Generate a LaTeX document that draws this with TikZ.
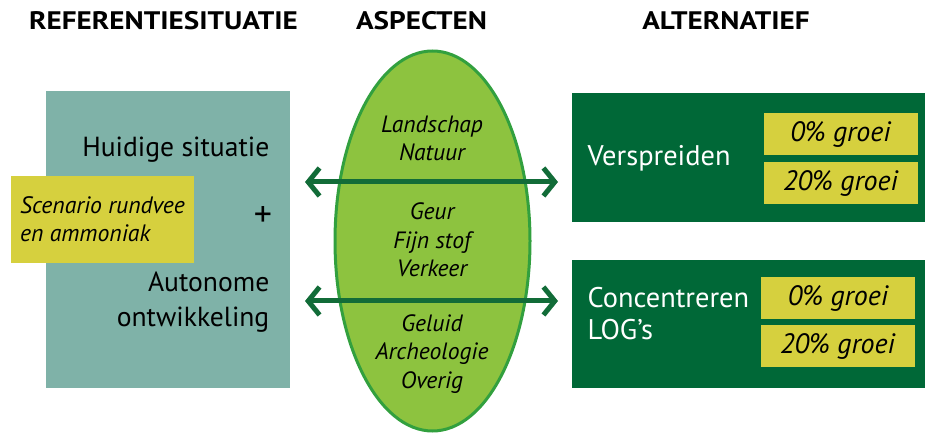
\documentclass[tikz,border=0pt]{standalone}
\usepackage{fontspec}
\setmainfont{PT Sans}
\newfontfamily\headfont[FakeStretch=1.15]{PT Sans}
\usetikzlibrary{shapes.geometric,arrows.meta}
\definecolor{refteal}{RGB}{127,178,168}
\definecolor{scenyellow}{RGB}{214,208,62}
\definecolor{aspgreen}{RGB}{141,195,63}
\definecolor{aspedge}{RGB}{50,160,62}
\definecolor{altgreen}{RGB}{0,104,55}
\definecolor{arrgreen}{RGB}{18,108,56}
\tikzset{
  head/.style={font=\headfont\bfseries\fontsize{19}{22}\selectfont},
  plain/.style={font=\fontsize{20.7}{26.25}\selectfont},
  aspect/.style={align=center, font=\itshape\fontsize{17.7}{21.5}\selectfont},
  groeibox/.style={fill=scenyellow, minimum width=115.5pt, minimum height=31.5pt, inner sep=0pt,
    font=\itshape\fontsize{21}{24}\selectfont},
  altbox/.style={fill=altgreen, minimum width=264.75pt, minimum height=96.5pt, inner sep=0pt},
  alttext/.style={text=white, anchor=west, align=left, font=\fontsize{21.3}{24}\selectfont},
  biarrow/.style={draw=arrgreen, line width=3.75pt,
    {Straight Barb[length=8.5pt,width=21pt]}-{Straight Barb[length=8.5pt,width=21pt]}}
}
\begin{document}
\begin{tikzpicture}[x=0.75pt,y=-0.75pt]
  \useasboundingbox (0,0) rectangle (925,434);
  % koppen
  \node[head](hRef) at (163.5,21) {REFERENTIESITUATIE};
  \node[head](hAsp) at (421.5,21) {ASPECTEN};
  \node[head](hAlt) at (726,21) {ALTERNATIEF};
  % referentie
  \node[fill=refteal, minimum width=183pt, minimum height=222.75pt, inner sep=0pt](ref) at (168,239.5) {};
  \node[fill=scenyellow, minimum width=137.25pt, minimum height=65.25pt, align=left,
    font=\itshape\fontsize{17.8}{21}\selectfont](scen) at (102.5,219.5) {Scenario rundvee\\en ammoniak};
  \node[plain, anchor=east](huidig) at (274,150) {Huidige situatie};
  \node[font=\fontsize{27}{30}\selectfont\addfontfeature{FakeBold=0}](plus) at (263,217) {+};
  \node[plain, anchor=east, align=right](auto) at (274,302) {Autonome\\ontwikkeling};
  % aspecten
  \node[ellipse, fill=aspgreen, draw=aspedge, line width=2.25pt,
    minimum width=146.25pt, minimum height=285pt](asp) at (432.5,241) {};
  \node[aspect](asp1) at (432,138.5) {Landschap\\Natuur};
  \node[aspect](asp2) at (432,240) {Geur\\Fijn stof\\Verkeer};
  \node[aspect](asp3) at (432,354) {Geluid\\Archeologie\\Overig};
  % alternatieven
  \node[altbox](alt1) at (748.5,157.5) {};
  \node[altbox](alt2) at (748,324) {};
  \node[alttext](versp) at (583,158) {Verspreiden};
  \node[alttext](conc) at (583,314) {Concentreren\\LOG’s};
  \foreach \n/\x/\y/\t in {1/840.5/134.5/0, 2/840.5/183/20, 3/838/298/0, 4/837.5/346.5/20}{
    \node[groeibox](g\n) at (\x,\y) {\t\% groei};
  }
  % pijlen
  \coordinate (l1) at (305,182);
  \coordinate (r1) at (558,182);
  \coordinate (l2) at (305,301);
  \coordinate (r2) at (558,301);
  \draw[biarrow] (l1) -- (r1);
  \draw[biarrow] (l2) -- (r2);
\end{tikzpicture}
\end{document}
